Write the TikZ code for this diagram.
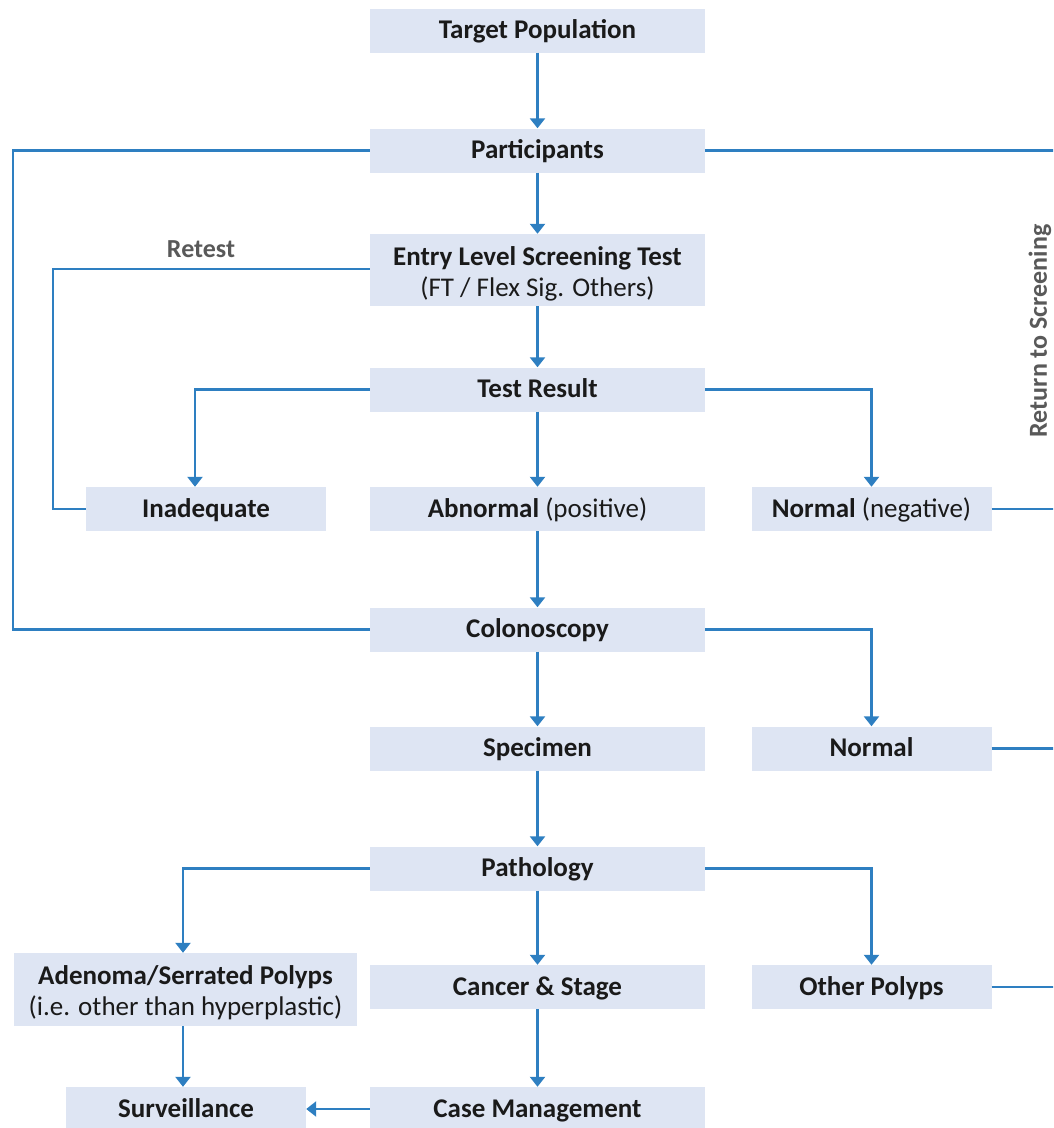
\documentclass[tikz,border=0pt]{standalone}
\usepackage{fontspec}
\setmainfont{Carlito}
\usetikzlibrary{arrows.meta}
\definecolor{boxfill}{HTML}{DEE5F3}
\definecolor{linec}{HTML}{2E7FC1}
\definecolor{graytxt}{HTML}{595959}
\definecolor{txt}{HTML}{1A1A1A}
\begin{document}
\begin{tikzpicture}[x=1pt,y=-1pt,
  box/.style={fill=boxfill,draw=none,inner sep=0pt,minimum height=44pt,align=center,font=\fontsize{27}{31}\selectfont\bfseries,text=txt},
  one/.style={text height=20pt,text depth=4pt},
  wide/.style={box,minimum width=335pt},
  narrow/.style={box,minimum width=240pt},
  conn/.style={draw=linec,line width=2.4pt},
  arr/.style={conn,-{Triangle[width=15pt,length=10pt]}},
  lbl/.style={font=\fontsize{26}{30}\selectfont\bfseries,text=graytxt}
]
\useasboundingbox (0,0) rectangle (1053,1128);
\begin{scope}
\clip (0,0) rectangle (1053,1128);
\node[wide,one] (tp) at (537.5,30.5) {Target Population};
\node[wide,one] (pa) at (537.5,150.5) {Participants};
\node[wide,minimum height=72pt] (el) at (537.5,270) {\rule{0pt}{26pt}Entry Level Screening Test\\{\mdseries (FT / Flex Sig. Others)}};
\node[wide,one] (tr) at (537.5,389.5) {Test Result};
\node[narrow,one] (in) at (206,509) {Inadequate};
\node[wide,one] (ab) at (537.5,509) {Abnormal {\mdseries (positive)}};
\node[narrow,one] (nn) at (871.5,509) {Normal {\mdseries (negative)}};
\node[wide,one] (co) at (537.5,629.5) {Colonoscopy};
\node[wide,one] (sp) at (537.5,748.5) {Specimen};
\node[narrow,one] (no) at (871.5,748.5) {Normal};
\node[wide,one] (pt) at (537.5,868.5) {Pathology};
\node[box,minimum width=343pt,minimum height=73pt] (ad) at (185.5,989.5) {\rule{0pt}{25pt}Adenoma/Serrated Polyps\\{\mdseries (i.e. other than hyperplastic)}};
\node[wide,one] (cs) at (537.5,987) {Cancer \& Stage};
\node[narrow,one] (op) at (871.5,987) {Other Polyps};
\node[narrow,one] (su) at (186,1109) {Surveillance};
\node[wide,one] (cm) at (537.5,1109) {Case Management};

\coordinate (edge1) at (1060,150.5);
\coordinate (edge2) at (1060,509);
\coordinate (edge3) at (1060,748.5);
\coordinate (edge4) at (1060,987);

\draw[arr] (tp) -- (pa);
\draw[arr] (pa) -- (el);
\draw[arr] (el) -- (tr);
\draw[arr] (tr) -- (ab);
\draw[arr] (ab) -- (co);
\draw[arr] (co) -- (sp);
\draw[arr] (sp) -- (pt);
\draw[arr] (pt) -- (cs);
\draw[arr] (cs) -- (cm);
\draw[arr] (cm) -- (su);

\draw[arr] (tr.west) -| ([xshift=-11pt]in.north);
\draw[arr] (tr.east) -| (nn.north);
\draw[arr] (co.east) -| (no.north);
\draw[arr] (pt.west) -| ([xshift=-2.5pt]ad.north);
\draw[arr] (pt.east) -| (op.north);
\draw[arr] ([xshift=-2.5pt]ad.south) -- ([xshift=-3pt]su.north);

\draw[conn] (pa.west) -- (13,150.5) |- (co.west);
\draw[conn] (el.west |- 0,269) -- (53,269) |- (in.west);
\draw[conn] (pa.east) -- (edge1);
\draw[conn] (nn.east) -- (edge2);
\draw[conn] (no.east) -- (edge3);
\draw[conn] (op.east) -- (edge4);

\node[lbl] (rt) at (201,249) {Retest};
\node[lbl,rotate=90] (rs) at (1040,331) {Return to Screening};
\end{scope}
\end{tikzpicture}
\end{document}
